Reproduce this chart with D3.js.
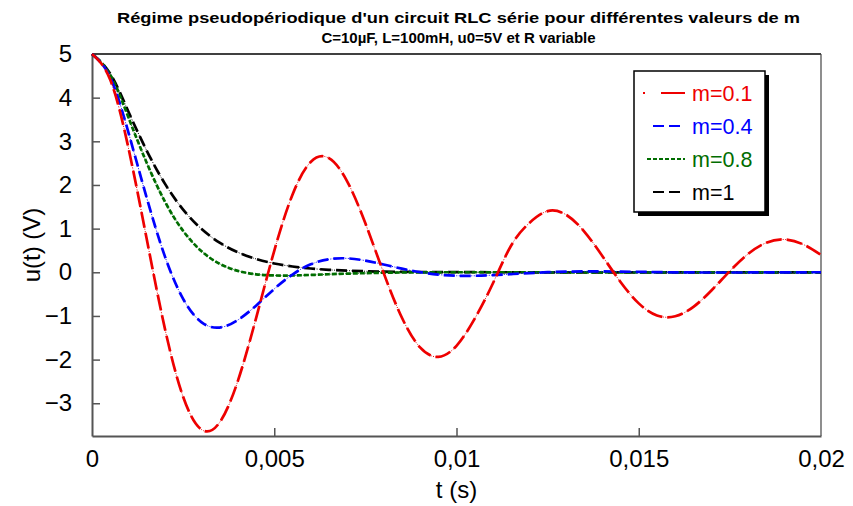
<!DOCTYPE html>
<html>
<head>
<meta charset="utf-8">
<script src="https://cdn.jsdelivr.net/npm/d3@7/dist/d3.min.js"></script>
<style>
  body { margin: 0; background: #fff; }
  text { font-family: Arial, "Liberation Sans", sans-serif; }
</style>
</head>
<body>
<div id="chart"></div>
<script>
// temps (s), un point toutes les 0,5 ms
const temps = [0, 0.0005, 0.001, 0.0015, 0.002, 0.0025, 0.003, 0.0035, 0.004, 0.0045,
  0.005, 0.0055, 0.006, 0.0065, 0.007, 0.0075, 0.008, 0.0085, 0.009, 0.0095,
  0.01, 0.0105, 0.011, 0.0115, 0.012, 0.0125, 0.013, 0.0135, 0.014, 0.0145,
  0.015, 0.0155, 0.016, 0.0165, 0.017, 0.0175, 0.018, 0.0185, 0.019, 0.0195, 0.02];

const u_m01 = [5, 4.408, 2.845, 0.768, -1.290, -2.852, -3.601, -3.440, -2.492, -1.054,
  0.493, 1.777, 2.526, 2.614, 2.085, 1.121, -0.013, -1.036, -1.720, -1.938,
  -1.684, -1.062, -0.251, 0.613, 1.131, 1.402, 1.321, 0.939, 0.375, -0.223,
  -0.712, -0.988, -1.008, -0.792, -0.411, 0.029, 0.421, 0.677, 0.751, 0.643, 0.396];
const u_m04 = [5, 4.462, 3.201, 1.710, 0.365, -0.610, -1.141, -1.266, -1.094, -0.764,
  -0.381, -0.051, 0.182, 0.298, 0.319, 0.267, 0.179, 0.083, 0.003, -0.052,
  -0.079, -0.080, -0.065, -0.042, -0.018, 0.002, 0.015, 0.020, 0.020, 0.016,
  0.010, 0.004, -0.001, -0.004, -0.005, -0.005, -0.004, -0.002, -0.001, 0, 0.001];
const u_m08 = [5, 4.523, 3.546, 2.509, 1.620, 0.948, 0.486, 0.196, 0.033, -0.046,
  -0.073, -0.074, -0.061, -0.045, -0.031, -0.019, -0.010, -0.005, -0.002, 0,
  0.001, 0.001, 0.001, 0.001, 0.001, 0, 0, 0, 0, 0,
  0, 0, 0, 0, 0, 0, 0, 0, 0, 0, 0];
const u_m1 = [5, 4.549, 3.679, 2.789, 2.030, 1.437, 0.996, 0.679, 0.458, 0.306,
  0.202, 0.133, 0.087, 0.056, 0.037, 0.024, 0.015, 0.010, 0.006, 0.004,
  0.003, 0.002, 0.001, 0.001, 0, 0, 0, 0, 0, 0,
  0, 0, 0, 0, 0, 0, 0, 0, 0, 0, 0];

const legendLabels = ["m=0.1", "m=0.4", "m=0.8", "m=1"];
const yTicks = [-3, -2, -1, 0, 1, 2, 3, 4, 5];
const xTicks = [0, 0.005, 0.01, 0.015, 0.02];
const xTickLabels = ["0", "0,005", "0,01", "0,015", "0,02"];

const titre1 = "Régime pseudopériodique d'un circuit RLC série pour différentes valeurs de m";
const titre2 = "C=10µF, L=100mH, u0=5V et R variable";

const width = 853, height = 506;
const margin = { top: 54, left: 92, bottom: 70, right: 32 };
const iwidth = width - margin.left - margin.right;
const iheight = height - margin.top - margin.bottom;

const svg = d3.select("#chart").append("svg")
  .attr("width", width)
  .attr("height", height);

const g = svg.append("g").attr("transform", `translate(${margin.left},${margin.top})`);

const x = d3.scaleLinear().domain([0, 0.02]).range([0, iwidth]);
const y = d3.scaleLinear().domain([-3.75, 5]).range([iheight, 0]);

// titre
svg.append("text")
  .attr("x", margin.left + iwidth / 2 + 2).attr("y", 23)
  .attr("text-anchor", "middle")
  .attr("textLength", 683).attr("lengthAdjust", "spacingAndGlyphs")
  .style("font-size", "15px").style("font-weight", "bold")
  .text(titre1);
svg.append("text")
  .attr("x", margin.left + iwidth / 2 + 2).attr("y", 43)
  .attr("text-anchor", "middle")
  .style("font-size", "15px").style("font-weight", "bold")
  .text(titre2);

// cadre : haut et droite
g.append("line").attr("x1", 0).attr("x2", iwidth).attr("y1", 0).attr("y2", 0)
  .attr("stroke", "#000").attr("stroke-width", 1.5);
g.append("line").attr("x1", iwidth).attr("x2", iwidth).attr("y1", 0).attr("y2", iheight)
  .attr("stroke", "#444").attr("stroke-width", 1.2);

// axes
const axeY = g.append("g")
  .call(d3.axisLeft(y).tickValues(yTicks).tickSizeInner(-8).tickSizeOuter(0).tickPadding(20));
const axeX = g.append("g")
  .attr("transform", `translate(0,${iheight})`)
  .call(d3.axisBottom(x).tickValues(xTicks).tickSizeInner(-8).tickSizeOuter(0).tickPadding(14)
    .tickFormat((d, i) => xTickLabels[i]));

[axeY, axeX].forEach(a => {
  a.select(".domain").attr("stroke", "#555").attr("stroke-width", 2);
  a.selectAll(".tick line").attr("stroke", "#555").attr("stroke-width", 1.5);
  a.selectAll(".tick text").style("font-size", "24px").attr("fill", "#000")
    .style("font-family", "Arial, 'Liberation Sans', sans-serif");
});
axeY.selectAll(".tick").filter(d => d === 5).select("line").remove();
axeX.selectAll(".tick").filter(d => d === 0 || d === 0.02).select("line").remove();

// titres des axes
svg.append("text")
  .attr("transform", `translate(40,${margin.top + iheight / 2}) rotate(-90)`)
  .attr("text-anchor", "middle")
  .style("font-size", "24px")
  .text("u(t) (V)");
svg.append("text")
  .attr("x", margin.left + iwidth / 2).attr("y", 498)
  .attr("text-anchor", "middle")
  .style("font-size", "24px")
  .text("t (s)");

// courbes : trait fin + tirets épais
const series = [
  { nom: legendLabels[3], vals: u_m1, color: "#000000", dash: "11,5" },
  { nom: legendLabels[2], vals: u_m08, color: "#006d00", dash: "5,2" },
  { nom: legendLabels[1], vals: u_m04, color: "#0000ff", dash: "11,5" },
  { nom: legendLabels[0], vals: u_m01, color: "#ee0000", dash: "16,5" }
];

const line = d3.line()
  .x((d, i) => x(temps[i]))
  .y(d => y(d))
  .curve(d3.curveNatural);

series.forEach(s => {
  g.append("path")
    .attr("d", line(s.vals))
    .attr("fill", "none")
    .attr("stroke", s.color)
    .attr("stroke-width", 1)
    .attr("stroke-dasharray", "1,1.5");
  g.append("path")
    .attr("d", line(s.vals))
    .attr("fill", "none")
    .attr("stroke", s.color)
    .attr("stroke-width", 2.7)
    .attr("stroke-dasharray", s.dash);
});

// légende
const leg = svg.append("g").attr("transform", "translate(634,71)");
leg.append("rect").attr("x", 4).attr("y", 4).attr("width", 131).attr("height", 141).attr("fill", "#000");
leg.append("rect").attr("x", 0).attr("y", 0).attr("width", 131).attr("height", 141)
  .attr("fill", "#fff").attr("stroke", "#000").attr("stroke-width", 1.5);

const legOrder = [
  { label: legendLabels[0], color: "#ee0000", dash: "2,16,26,0", x1: 9 },
  { label: legendLabels[1], color: "#0000ff", dash: "11,5", x1: 19 },
  { label: legendLabels[2], color: "#006d00", dash: "4,2", x1: 13 },
  { label: legendLabels[3], color: "#000000", dash: "11,5", x1: 19 }
];
legOrder.forEach((s, i) => {
  const yy = 22 + i * 33;
  leg.append("line")
    .attr("x1", s.x1).attr("x2", 51).attr("y1", yy).attr("y2", yy)
    .attr("stroke", s.color).attr("stroke-width", 2.2)
    .attr("stroke-dasharray", s.dash);
  leg.append("text")
    .attr("x", 58).attr("y", yy + 8)
    .attr("fill", s.color)
    .style("font-size", "21.5px")
    .text(s.label);
});
</script>
</body>
</html>
